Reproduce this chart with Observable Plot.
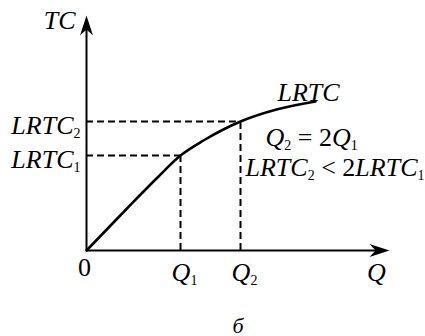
<!DOCTYPE html>
<html>
<head>
<meta charset="utf-8">
<script src="https://cdn.jsdelivr.net/npm/d3@7"></script>
<script src="https://cdn.jsdelivr.net/npm/@observablehq/plot@0.6"></script>
<style>
  html, body { margin: 0; padding: 0; background: white; }
  svg text, svg tspan { font-family: "Liberation Serif", "DejaVu Serif", serif !important; }
</style>
</head>
<body>
<div id="chart"></div>
<script>
// Schematic values (arbitrary units)
const curveQ    = [0, 40, 70, 94, 117, 154, 190, 229];
const curveLRTC = [0, 41.5, 72, 95, 110, 129, 141, 149];
const qMarks    = [94, 154];          // Q1, Q2
const cMarks    = [95, 129];          // LRTC1, LRTC2
const qLabels   = ["Q_1", "Q_2"];
const cLabels   = ["LRTC_1", "LRTC_2"];
const xMax = 303, yMax = 235;

const curve = curveQ.map((q, i) => ({q, c: curveLRTC[i]}));
const marks = qMarks.map((q, i) => ({q, c: cMarks[i], ql: qLabels[i], cl: cLabels[i]}));

const font = "Liberation Serif, DejaVu Serif, serif";
const stealth = {
  draw(ctx) {
    ctx.moveTo(0, 0);
    ctx.lineTo(6.5, 20);
    ctx.lineTo(0, 14);
    ctx.lineTo(-6.5, 20);
    ctx.closePath();
  }
};

const txt = {lineAnchor: "bottom", fontSize: 26, fill: "black", fontFamily: font};
const dash = {stroke: "black", strokeWidth: 2, strokeDasharray: "7,4"};

const plot = Plot.plot({
  width: 425,
  height: 336,
  marginLeft: 86,
  marginRight: 36,
  marginTop: 15,
  marginBottom: 86,
  x: {domain: [0, xMax], axis: null},
  y: {domain: [0, yMax], axis: null},
  style: {background: "white", color: "black"},
  marks: [
    // dashed guides
    Plot.ruleY(marks, {y: "c", x1: 0, x2: "q", ...dash}),
    Plot.ruleX(marks, {x: "q", y1: 0, y2: "c", ...dash}),
    // axes
    Plot.ruleX([0], {y1: 0, y2: yMax - 8, stroke: "black", strokeWidth: 2}),
    Plot.ruleY([0], {x1: 0, x2: xMax - 8, stroke: "black", strokeWidth: 2}),
    Plot.dot([{x: 0, y: yMax}], {x: "x", y: "y", symbol: stealth, fill: "black", stroke: "none"}),
    Plot.dot([{x: xMax, y: 0}], {x: "x", y: "y", symbol: stealth, rotate: 90, fill: "black", stroke: "none"}),
    // LRTC curve
    Plot.line(curve, {x: "q", y: "c", curve: "monotone-x", stroke: "black", strokeWidth: 2.6}),
    // axis labels
    Plot.text(["TC"], {...txt, x: 0, y: yMax, textAnchor: "end", dx: -11, dy: 13}),
    Plot.text(["0"], {...txt, x: 0, y: 0, textAnchor: "middle", dx: -2, dy: 25}),
    Plot.text(["Q"], {...txt, x: xMax, y: 0, textAnchor: "middle", dx: -13, dy: 30}),
    Plot.text(marks, {...txt, x: "q", y: 0, text: "ql", textAnchor: "middle", dx: 4, dy: 30}),
    Plot.text(marks, {...txt, x: 0, y: "c", text: "cl", textAnchor: "end", dx: -6, dy: 12}),
    // annotations
    Plot.text([curve[curve.length - 1]], {...txt, x: "q", y: "c", text: () => "LRTC", textAnchor: "middle", dx: -7, dy: -1}),
    Plot.text([marks[1]], {...txt, x: "q", y: "c", text: () => "Q_2 = 2Q_1", textAnchor: "start", dx: 25, dy: 24}),
    Plot.text([marks[1]], {...txt, x: "q", y: "c", text: () => "LRTC_2 < 2LRTC_1", textAnchor: "start", dx: 5, dy: 54}),
    // caption
    Plot.text(["б"], {lineAnchor: "bottom", fontSize: 22, fill: "black", fontFamily: font, frameAnchor: "bottom", dy: 82})
  ]
});

// rich text: italic letters, upright digits/operators, subscripts
const letter = /[A-Za-zА-яЁё]/;
d3.select(plot).selectAll("text").each(function () {
  const s = this.textContent;
  const el = d3.select(this);
  el.text(null).style("white-space", "pre").style("font-family", '"Liberation Serif", "DejaVu Serif", serif');
  const tokens = s.match(/_\d|[A-Za-zА-яЁё]+|[^A-Za-zА-яЁё_]+/g) || [];
  let shifted = false;
  for (const t of tokens) {
    const ts = el.append("tspan");
    if (t[0] === "_") {
      ts.text(t.slice(1)).attr("font-size", 14).attr("font-style", "normal").attr("dy", 4);
      shifted = true;
    } else {
      if (shifted) { ts.attr("dy", -4); shifted = false; }
      ts.text(t).attr("font-style", letter.test(t) ? "italic" : "normal");
    }
  }
});

document.getElementById("chart").appendChild(plot);
</script>
</body>
</html>
